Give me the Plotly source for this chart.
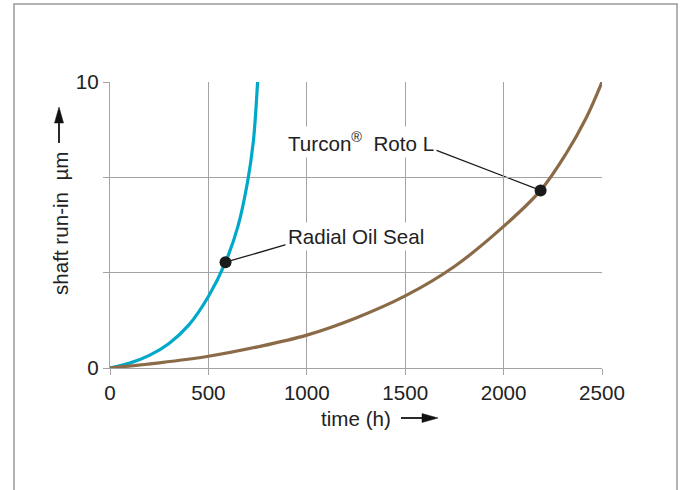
import plotly.graph_objects as go

# Data
radial_x = [0, 100, 200, 300, 400, 500, 587, 650, 700, 728, 740, 750]
radial_y = [0, 0.17, 0.44, 0.86, 1.5, 2.5, 3.7, 4.95, 6.55, 7.9, 8.9, 10.0]

turcon_x = [0, 250, 500, 750, 1000, 1250, 1500, 1750, 2000, 2188, 2318, 2420, 2500]
turcon_y = [0, 0.18, 0.41, 0.74, 1.15, 1.75, 2.52, 3.55, 4.95, 6.21, 7.5, 8.75, 10.0]

marker_x = [587, 2188]
marker_y = [3.7, 6.21]
label_texts = ["Radial Oil Seal", "Turcon<sup>®</sup>\u00a0 Roto L"]
label_x = [890, 890]
label_y = [4.59, 7.91]
leader_end_x = [894, 1626]
leader_end_y = [4.31, 7.70]

x_ticks = [0, 500, 1000, 1500, 2000, 2500]
y_ticks = [0, 10]
y_minor_ticks = [10 / 3, 20 / 3]

FONT = "Liberation Sans, Arial, sans-serif"
FS = 20.6
TXT = "#222222"
GRID = "#a3a3a3"

# plot area in page pixels
PL, PR, PT, PB = 110, 602, 82, 368


def px(x):
    return (x - PL) / (PR - PL)


def py(y):
    return (PB - y) / (PB - PT)


fig = go.Figure()
fig.add_trace(go.Scatter(x=radial_x, y=radial_y, mode="lines",
                         line=dict(color="#00a9c9", width=3.2, shape="spline", smoothing=1.0),
                         hoverinfo="skip", showlegend=False))
fig.add_trace(go.Scatter(x=turcon_x, y=turcon_y, mode="lines",
                         line=dict(color="#8b6b47", width=3.2, shape="spline", smoothing=1.0),
                         hoverinfo="skip", showlegend=False))
fig.add_trace(go.Scatter(x=marker_x, y=marker_y, mode="markers",
                         marker=dict(color="#1a1a1a", size=12),
                         hoverinfo="skip", showlegend=False, cliponaxis=False))

shapes = []
for mx, my, lx, ly in zip(marker_x, marker_y, leader_end_x, leader_end_y):
    shapes.append(dict(type="line", xref="x", yref="y", x0=mx, y0=my, x1=lx, y1=ly,
                       line=dict(color="#1a1a1a", width=1.3), layer="below"))
# outer frame
shapes.append(dict(type="rect", xref="paper", yref="paper",
                   x0=px(14), x1=px(677), y0=py(520), y1=py(4),
                   line=dict(color="#9a9a9a", width=1.5), fillcolor="rgba(0,0,0,0)"))
# axis-title arrows (x: pointing right, y: pointing up)
ARW = dict(color="#111111", width=1.8)
shapes.append(dict(type="line", xref="paper", yref="paper",
                   x0=px(401), x1=px(426), y0=py(418), y1=py(418), line=ARW))
shapes.append(dict(type="path", xref="paper", yref="paper",
                   path=f"M {px(422)} {py(413.5)} L {px(438)} {py(418)} L {px(422)} {py(422.5)} Z",
                   fillcolor="#111111", line=dict(color="#111111", width=0.5)))
shapes.append(dict(type="line", xref="paper", yref="paper",
                   x0=px(59), x1=px(59), y0=py(143), y1=py(120), line=ARW))
shapes.append(dict(type="path", xref="paper", yref="paper",
                   path=f"M {px(54.5)} {py(123)} L {px(59)} {py(107)} L {px(63.5)} {py(123)} Z",
                   fillcolor="#111111", line=dict(color="#111111", width=0.5)))

annotations = []
for t, lx, ly in zip(label_texts, label_x, label_y):
    annotations.append(dict(text=t, x=lx, y=ly, xref="x", yref="y",
                            xanchor="left", yanchor="middle", showarrow=False,
                            bgcolor="white", borderpad=2,
                            font=dict(family=FONT, size=FS, color=TXT)))
# axis titles
annotations.append(dict(text="time (h)", x=px(356), y=py(418), xref="paper", yref="paper",
                        xanchor="center", yanchor="middle", showarrow=False,
                        font=dict(family=FONT, size=FS, color=TXT)))
annotations.append(dict(text="shaft run-in\u00a0\u00a0µm", x=px(60), y=py(224), xref="paper", yref="paper",
                        xanchor="center", yanchor="middle", showarrow=False, textangle=-90,
                        font=dict(family=FONT, size=FS, color=TXT)))

fig.update_layout(
    width=683, height=490,
    margin=dict(l=PL, r=683 - PR, t=PT, b=490 - PB),
    paper_bgcolor="white", plot_bgcolor="white",
    font=dict(family=FONT, size=FS, color=TXT),
    shapes=shapes, annotations=annotations,
    hovermode=False,
    xaxis=dict(range=[0, 2500], tickvals=x_ticks, showgrid=True, gridcolor=GRID, gridwidth=1.2,
               showline=True, linecolor=GRID, linewidth=1.2, zeroline=False,
               ticks="outside", ticklen=6, tickcolor=GRID, tickwidth=1.2,
               tickfont=dict(family=FONT, size=FS, color=TXT)),
    yaxis=dict(range=[0, 10], tickvals=y_ticks, showgrid=True,
               gridcolor=GRID, gridwidth=1.2, showline=True, linecolor=GRID, linewidth=1.2,
               zeroline=False, ticks="outside", ticklen=6, tickcolor=GRID, tickwidth=1.2,
               tickfont=dict(family=FONT, size=FS, color=TXT),
               minor=dict(tickvals=y_minor_ticks, showgrid=True, gridcolor=GRID, gridwidth=1.2,
                          ticks="outside", ticklen=6, tickcolor=GRID, tickwidth=1.2)),
)

fig.write_html("out.html", config={"displayModeBar": False},
               post_script="document.body.style.margin='0';")
